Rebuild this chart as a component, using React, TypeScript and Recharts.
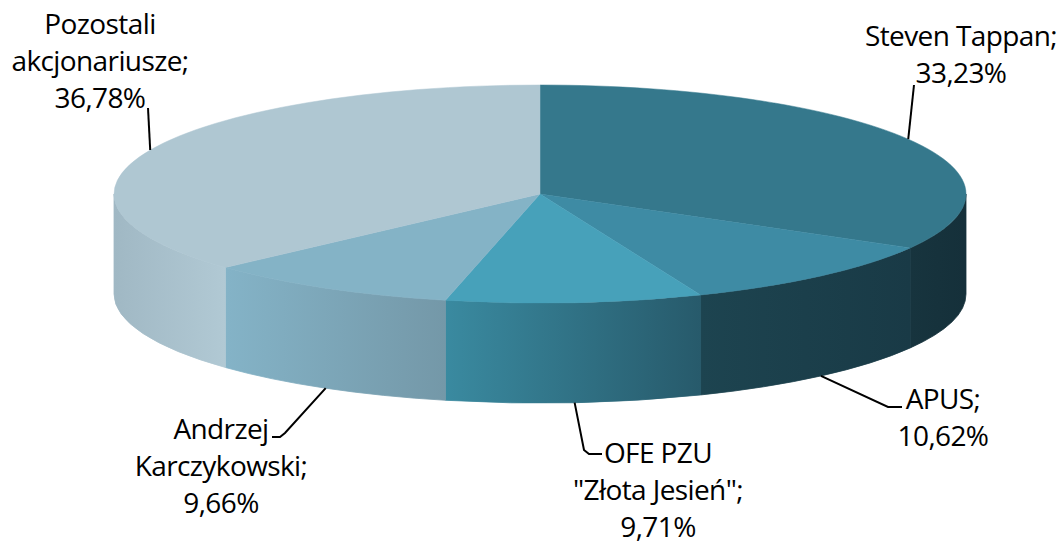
import { PieChart, Pie } from "recharts";

const names = ["Steven Tappan", "APUS", "OFE PZU Złota Jesień", "Andrzej Karczykowski", "Pozostali akcjonariusze"];
const shares = [33.23, 10.62, 9.71, 9.66, 36.78];
const labelLines = [
  ["Steven Tappan;"],
  ["APUS;"],
  ["OFE PZU", "\"Złota Jesień\";"],
  ["Andrzej", "Karczykowski;"],
  ["Pozostali", "akcjonariusze;"],
];

const topColors = ["#35788c", "#3e8ba4", "#47a1ba", "#84b3c6", "#afc7d2"];
const wallFrom = ["#17343e", "#1d4450", "#3a8aa0", "#84b3c7", "#a0b8c4"];
const wallTo = ["#15303a", "#193a46", "#275a6b", "#7498a8", "#b1c9d4"];

// text block centre + first baseline, then the leader's bend points
const labelX = [961, 943, 658, 221, 100];
const labelY = [46, 409, 463, 439, 34];
const leaderBends = [
  [[914, 85]],
  [[888, 407], [902, 407]],
  [[584, 450], [589, 454], [602, 454]],
  [[285, 433], [280, 437], [272, 437]],
  [[148, 108]],
];

const data = names.map((name, i) => ({ name, value: shares[i] }));

const WIDTH = 1060;
const HEIGHT = 545;
const CX = 540;
const CY = 194;
const RX = 426;
const RY = 109;
const DEPTH = 100;
const LINE_H = 37;

const rad = (a: number) => (a * Math.PI) / 180;
const px = (a: number, cx: number, r: number) => cx + r * Math.cos(rad(a));
const py = (a: number, cy: number, r: number) => cy - r * (RY / RX) * Math.sin(rad(a));

function Slice3D(props: any) {
  const { cx, cy, outerRadius: r, startAngle, endAngle, index } = props;
  const ry = r * (RY / RX);
  const large = Math.abs(startAngle - endAngle) > 180 ? 1 : 0;
  const top =
    `M${cx},${cy} L${px(startAngle, cx, r)},${py(startAngle, cy, r)} ` +
    `A${r},${ry} 0 ${large} 1 ${px(endAngle, cx, r)},${py(endAngle, cy, r)} Z`;

  // only the part of the rim facing the viewer gets a wall
  const wallStart = Math.min(startAngle, 0);
  const wallEnd = Math.max(endAngle, -180);
  const hasWall = wallStart > wallEnd;
  const x1 = px(wallStart, cx, r);
  const y1 = py(wallStart, cy, r);
  const x2 = px(wallEnd, cx, r);
  const y2 = py(wallEnd, cy, r);
  const wall =
    `M${x1},${y1} A${r},${ry} 0 0 1 ${x2},${y2} L${x2},${y2 + DEPTH} ` +
    `A${r},${ry} 0 0 0 ${x1},${y1 + DEPTH} Z`;

  return (
    <g>
      {hasWall && (
        <>
          <defs>
            <linearGradient id={`wall-${index}`} x1="0" y1="0" x2="1" y2="0">
              <stop offset="0%" stopColor={wallFrom[index]} />
              <stop offset="100%" stopColor={wallTo[index]} />
            </linearGradient>
          </defs>
          {/* thin stroke hides the seam between neighbouring walls */}
          <path d={wall} fill={`url(#wall-${index})`} stroke={`url(#wall-${index})`} strokeWidth={0.8} />
        </>
      )}
      <path d={top} fill={topColors[index]} stroke={topColors[index]} strokeWidth={0.5} />
    </g>
  );
}

function SliceLabel(props: any) {
  const { cx, cy, outerRadius: r, midAngle, index } = props;
  const x = px(midAngle, cx, r);
  const y = py(midAngle, cy, r) + (Math.sin(rad(midAngle)) < 0 ? DEPTH : 0);
  const points = [[x, y], ...leaderBends[index]].map((p) => p.join(",")).join(" ");
  const lines = [...labelLines[index], `${shares[index].toFixed(2).replace(".", ",")}%`];
  return (
    <g>
      <polyline points={points} fill="none" stroke="#000" strokeWidth={2} />
      <text
        textAnchor="middle"
        fontFamily="'Open Sans', sans-serif"
        fontSize={28}
        letterSpacing={-0.6}
        fill="#000"
      >
        {lines.map((line, i) => (
          <tspan key={i} x={labelX[index]} y={labelY[index] + i * LINE_H}>
            {line}
          </tspan>
        ))}
      </text>
    </g>
  );
}

export default function App() {
  return (
    <div style={{ position: "absolute", left: 0, top: 0 }}>
      <PieChart width={WIDTH} height={HEIGHT} margin={{ top: 0, right: 0, bottom: 0, left: 0 }}>
        <Pie
          data={data}
          dataKey="value"
          nameKey="name"
          cx={CX}
          cy={CY}
          innerRadius={0}
          outerRadius={RX}
          startAngle={90}
          endAngle={-270}
          stroke="none"
          shape={Slice3D}
          label={SliceLabel}
          labelLine={false}
          isAnimationActive={false}
        />
      </PieChart>
    </div>
  );
}
